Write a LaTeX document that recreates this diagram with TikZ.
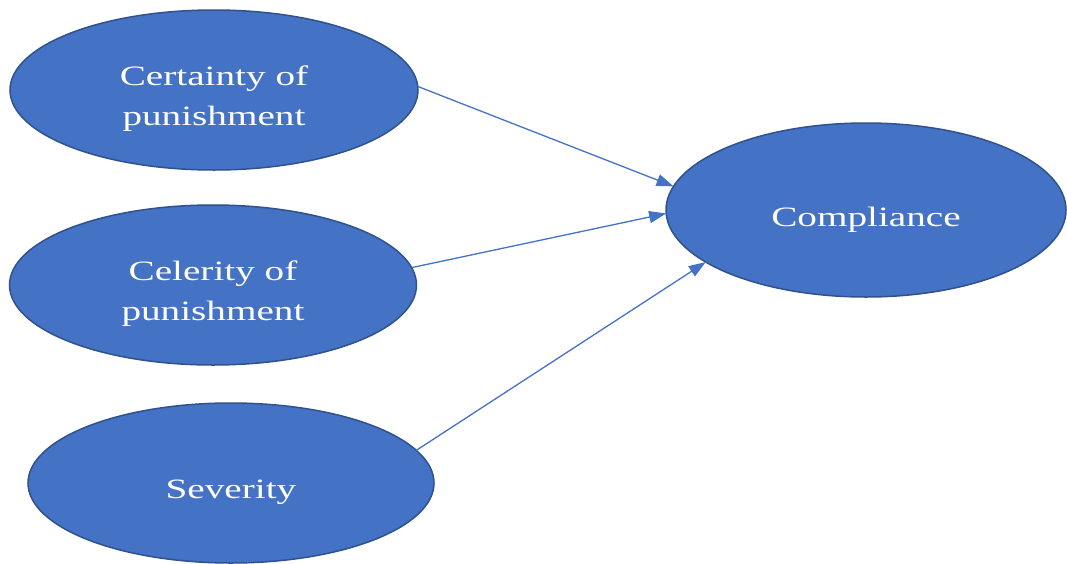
\documentclass[tikz,border=0pt]{standalone}
\usepackage{fontspec}
\setmainfont{Liberation Serif}
\newfontfamily\widefont[FakeStretch=1.4]{Liberation Serif}
\usetikzlibrary{arrows.meta,shapes.geometric}
\definecolor{ovalfill}{HTML}{4472C4}
\definecolor{ovaledge}{HTML}{2F528F}
\definecolor{linkblue}{HTML}{4472C4}
\begin{document}
\begin{tikzpicture}[x=1pt,y=-1pt,
  oval/.style={ellipse, fill=ovalfill, draw=ovaledge, line width=1.5pt,
    inner sep=0pt, outer sep=0pt},
  ovaltext/.style={text=white, align=center, anchor=base,
    font=\widefont\fontsize{28}{40}\selectfont},
  link/.style={draw=linkblue, line width=1.3pt,
    -{Triangle[length=17pt,width=12pt]}}]
\useasboundingbox (0,0) rectangle (1067,563);

% four ovals
\node[oval, minimum width=408pt, minimum height=160pt] (cert) at (214,90) {};
\node[oval, minimum width=407pt, minimum height=160pt] (cel) at (213,285) {};
\node[oval, minimum width=406pt, minimum height=160pt] (sev) at (231,483) {};
\node[oval, minimum width=400pt, minimum height=174pt] (comp) at (866,210) {};

% their texts (base anchor = baseline of the last line)
\node[ovaltext] (certtext) at ([yshift=-35pt]cert.center) {Certainty of\\punishment};
\node[ovaltext] (celtext) at ([yshift=-35pt]cel.center) {Celerity of\\punishment};
\node[ovaltext] (sevtext) at ([yshift=-15pt]sev.center) {Severity};
\node[ovaltext] (comptext) at ([yshift=-16pt]comp.center) {Compliance};

% links into Compliance
\draw[link] (cert.1.5) -- (comp.173);
\draw[link] (cel.5) -- (comp.181);
\draw[link] (sev.10) -- (comp.198);
\end{tikzpicture}
\end{document}
